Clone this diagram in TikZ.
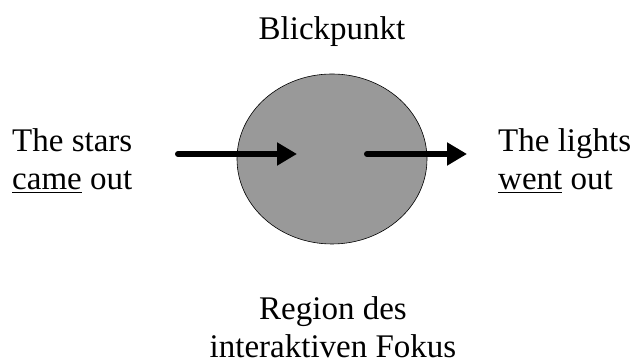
\documentclass[tikz,border=0pt]{standalone}
\usepackage{fontspec}
\setmainfont{Liberation Serif}
\usetikzlibrary{shapes.geometric,arrows.meta}
\definecolor{focusgray}{HTML}{999999}
\begin{document}
\begin{tikzpicture}[x=1pt,y=1pt,
  txt/.style={font=\fontsize{33}{38}\selectfont, inner sep=0pt},
  bigarrow/.style={line width=6pt, line cap=round, -{Triangle[length=20pt,width=22pt]}}]
\useasboundingbox (0,0) rectangle (640,363);
% region of focus
\node[ellipse, draw=black, line width=0.6pt, fill=focusgray,
      minimum width=190, minimum height=170, inner sep=0pt] (focus) at (332,204) {};
% labels (multi-line nodes are placed by the baseline of their last line)
\node[txt, anchor=base] (view) at (332,323) {Blickpunkt};
\node[txt, anchor=base west, align=left] (before) at (12,173) {The stars\\\underline{came} out};
\node[txt, anchor=base west, align=left] (after) at (498,173) {The lights\\\underline{went} out};
\node[txt, anchor=base, align=center] (region) at (333,5) {Region des\\interaktiven Fokus};
% arrows into and out of the focus
\coordinate (inA) at (178,209);
\coordinate (inB) at (297,209);
\coordinate (outA) at (367,209);
\coordinate (outB) at (467,209);
\draw[bigarrow] (inA) -- (inB);
\draw[bigarrow] (outA) -- (outB);
\end{tikzpicture}
\end{document}
